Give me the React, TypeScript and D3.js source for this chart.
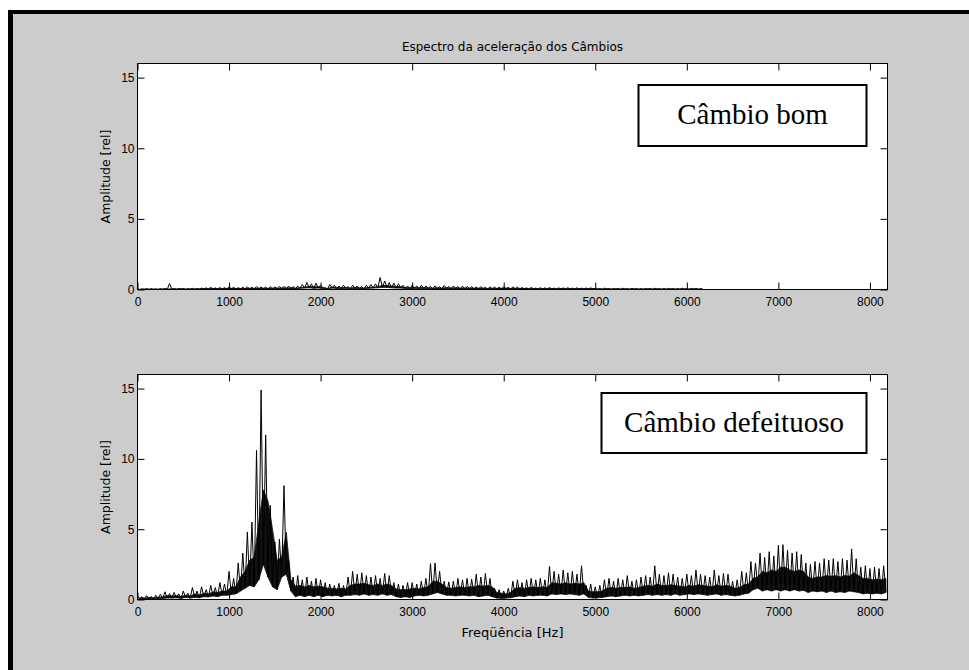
import React, { useEffect, useRef } from 'react';
import * as d3 from 'd3';

// spectrum per 50 Hz bin:
// peak = highest spike, band = top of the solid black band, floor = lowest dip
const BIN_HZ = 50;
const freqTicks = [0, 1000, 2000, 3000, 4000, 5000, 6000, 7000, 8000];
const ampTicks = [0, 5, 10, 15];

// Câmbio bom, 0 - 6150 Hz
const goodPeak = [
  0.05, 0.04, 0.06, 0.05, 0.04, 0.06, 0.07, 0.42, 0.06, 0.08,
  0.07, 0.06, 0.08, 0.07, 0.1, 0.12, 0.15, 0.11, 0.14, 0.13,
  0.2, 0.15, 0.13, 0.16, 0.18, 0.15, 0.2, 0.17, 0.16, 0.2,
  0.18, 0.22, 0.22, 0.25, 0.2, 0.24, 0.35, 0.5, 0.4, 0.45,
  0.3, 0.12, 0.35, 0.3, 0.25, 0.3, 0.2, 0.3, 0.25, 0.2,
  0.3, 0.35, 0.4, 0.85, 0.6, 0.5, 0.45, 0.4, 0.3, 0.25,
  0.3, 0.25, 0.3, 0.25, 0.22, 0.26, 0.2, 0.28, 0.22, 0.25,
  0.2, 0.24, 0.22, 0.2, 0.18, 0.2, 0.15, 0.19, 0.17, 0.16,
  0.2, 0.15, 0.18, 0.16, 0.14, 0.12, 0.15, 0.1, 0.13, 0.12,
  0.14, 0.1, 0.12, 0.11, 0.13, 0.1, 0.12, 0.1, 0.11, 0.12,
  0.08, 0.07, 0.1, 0.06, 0.08, 0.07, 0.09, 0.06, 0.08, 0.07,
  0.06, 0.08, 0.07, 0.09, 0.06, 0.07, 0.08, 0.06, 0.07, 0.09,
  0.06, 0.08, 0.07, 0.06,
];
const goodBand = [
  0.02, 0.02, 0.03, 0.02, 0.02, 0.03, 0.03, 0.04, 0.03, 0.04,
  0.03, 0.03, 0.04, 0.03, 0.05, 0.06, 0.07, 0.06, 0.06, 0.07,
  0.08, 0.07, 0.07, 0.08, 0.09, 0.08, 0.1, 0.09, 0.08, 0.1,
  0.09, 0.11, 0.11, 0.12, 0.1, 0.12, 0.17, 0.22, 0.2, 0.2,
  0.15, 0.06, 0.17, 0.15, 0.12, 0.15, 0.1, 0.14, 0.12, 0.1,
  0.15, 0.17, 0.2, 0.3, 0.28, 0.24, 0.22, 0.2, 0.14, 0.12,
  0.14, 0.12, 0.14, 0.12, 0.1, 0.12, 0.1, 0.13, 0.1, 0.12,
  0.1, 0.11, 0.1, 0.1, 0.09, 0.1, 0.07, 0.09, 0.08, 0.08,
  0.1, 0.07, 0.09, 0.08, 0.07, 0.06, 0.07, 0.05, 0.06, 0.06,
  0.07, 0.05, 0.06, 0.05, 0.06, 0.05, 0.06, 0.05, 0.05, 0.06,
  0.04, 0.03, 0.05, 0.03, 0.04, 0.03, 0.04, 0.03, 0.04, 0.03,
  0.03, 0.04, 0.03, 0.04, 0.03, 0.03, 0.04, 0.03, 0.03, 0.04,
  0.03, 0.04, 0.03, 0.03,
];
const goodFloor = [
  0, 0.01, 0, 0.01, 0, 0.01, 0.01, 0.02, 0.01, 0.02,
  0.01, 0.02, 0.01, 0.02, 0.02, 0.03, 0.04, 0.03, 0.02, 0.04,
  0.04, 0.03, 0.04, 0.03, 0.04, 0.05, 0.04, 0.06, 0.04, 0.05,
  0.06, 0.05, 0.06, 0.07, 0.05, 0.08, 0.1, 0.12, 0.08, 0.1,
  0.08, 0.02, 0.1, 0.07, 0.06, 0.08, 0.05, 0.07, 0.06, 0.05,
  0.08, 0.1, 0.12, 0.15, 0.15, 0.12, 0.1, 0.1, 0.07, 0.06,
  0.08, 0.05, 0.07, 0.06, 0.05, 0.06, 0.04, 0.07, 0.05, 0.06,
  0.04, 0.05, 0.06, 0.04, 0.04, 0.05, 0.03, 0.04, 0.04, 0.03,
  0.05, 0.03, 0.04, 0.03, 0.03, 0.02, 0.04, 0.02, 0.03, 0.02,
  0.03, 0.02, 0.03, 0.02, 0.03, 0.02, 0.03, 0.02, 0.02, 0.03,
  0.02, 0.01, 0.02, 0.01, 0.02, 0.01, 0.02, 0.01, 0.02, 0.01,
  0.01, 0.02, 0.01, 0.02, 0.01, 0.01, 0.02, 0.01, 0.01, 0.02,
  0.01, 0.02, 0.01, 0.01,
];

// Câmbio defeituoso, 0 - 8150 Hz
const defPeak = [
  0.25, 0.2, 0.28, 0.22, 0.3, 0.38, 0.55, 0.42, 0.5, 0.4,
  0.6, 0.45, 0.85, 0.6, 0.9, 0.7, 1.0, 0.85, 1.2, 1.1,
  2.0, 1.5, 2.6, 3.3, 4.8, 5.5, 10.6, 14.9, 11.7, 6.7,
  4.1, 4.3, 8.1, 2.8, 1.6, 1.7, 1.4, 1.6, 1.3, 1.5,
  1.4, 1.2, 1.1, 1.0, 1.15, 1.0, 1.6, 2.0, 1.8, 1.9,
  1.7, 1.6, 1.7, 1.5, 1.85, 1.7, 1.2, 1.1, 1.0, 1.2,
  1.2, 1.1, 1.3, 1.5, 2.55, 2.6, 2.0, 1.3, 1.25, 1.3,
  1.5, 1.4, 1.5, 1.45, 1.8, 1.6, 1.85, 1.5, 0.8, 0.7,
  0.6, 0.8, 1.3, 1.4, 1.2, 1.4, 1.5, 1.4, 1.5, 1.4,
  2.35, 2.0, 1.8, 2.1, 1.9, 2.0, 1.8, 2.4, 1.0, 1.1,
  0.9, 1.0, 1.4, 1.5, 1.3, 1.5, 1.4, 1.7, 1.3, 1.4,
  1.6, 1.7, 1.6, 2.4, 1.8, 1.7, 1.9, 1.8, 1.6, 1.5,
  1.8, 1.7, 2.1, 1.8, 1.7, 1.6, 2.1, 1.7, 1.85, 1.8,
  1.3, 1.4, 2.0, 1.9, 2.7, 2.6, 3.3, 3.0, 3.4, 3.1,
  3.85, 3.9, 3.5, 3.3, 3.4, 3.2, 2.6, 2.5, 2.7, 2.6,
  2.9, 2.8, 2.9, 2.7, 2.9, 2.8, 3.6, 2.9, 2.3, 2.4,
  2.2, 2.3, 2.2, 2.4,
];
const defBand = [
  0.12, 0.1, 0.14, 0.12, 0.15, 0.2, 0.28, 0.25, 0.28, 0.22,
  0.3, 0.25, 0.4, 0.32, 0.45, 0.4, 0.55, 0.5, 0.6, 0.6,
  0.9, 0.9, 1.6, 2.0, 2.8, 3.0, 5.5, 7.8, 7.0, 5.0,
  2.8, 3.0, 4.8, 1.4, 0.95, 1.0, 0.9, 1.0, 0.9, 0.95,
  0.9, 0.8, 0.8, 0.75, 0.8, 0.75, 1.0, 1.1, 1.1, 1.15,
  1.05, 1.0, 1.1, 1.0, 1.1, 1.0, 0.75, 0.7, 0.7, 0.75,
  0.8, 0.75, 0.85, 0.9, 1.3, 1.3, 1.1, 0.85, 0.8, 0.85,
  0.9, 0.85, 0.9, 0.9, 1.0, 0.95, 1.0, 0.9, 0.5, 0.45,
  0.4, 0.5, 0.8, 0.85, 0.8, 0.85, 0.9, 0.85, 0.9, 0.85,
  1.2, 1.15, 1.1, 1.2, 1.1, 1.15, 1.1, 1.2, 0.6, 0.55,
  0.55, 0.6, 0.8, 0.85, 0.8, 0.85, 0.85, 0.9, 0.8, 0.85,
  0.95, 1.0, 0.95, 1.1, 1.0, 1.0, 1.05, 1.0, 0.95, 0.9,
  1.0, 0.95, 1.05, 1.0, 0.95, 0.9, 1.05, 0.95, 1.0, 0.95,
  0.8, 0.85, 1.05, 1.1, 1.5, 1.6, 2.0, 1.9, 2.1, 2.0,
  2.3, 2.3, 2.1, 2.0, 2.1, 2.0, 1.6, 1.5, 1.6, 1.6,
  1.7, 1.65, 1.7, 1.6, 1.7, 1.65, 1.9, 1.7, 1.5, 1.5,
  1.4, 1.45, 1.4, 1.5,
];
const defFloor = [
  0.05, 0.03, 0.05, 0.03, 0.06, 0.08, 0.1, 0.1, 0.12, 0.08,
  0.15, 0.1, 0.15, 0.12, 0.2, 0.18, 0.25, 0.2, 0.3, 0.3,
  0.35, 0.4, 0.6, 0.8, 1.0, 0.9, 1.4, 2.5, 1.6, 0.9,
  0.7, 1.6, 1.8, 0.6, 0.2, 0.3, 0.2, 0.3, 0.2, 0.3,
  0.2, 0.3, 0.25, 0.3, 0.2, 0.3, 0.3, 0.35, 0.3, 0.4,
  0.3, 0.35, 0.3, 0.4, 0.3, 0.35, 0.2, 0.15, 0.2, 0.15,
  0.25, 0.3, 0.25, 0.3, 0.4, 0.5, 0.4, 0.3, 0.3, 0.25,
  0.3, 0.3, 0.25, 0.3, 0.2, 0.25, 0.3, 0.2, 0.1, 0.08,
  0.1, 0.12, 0.2, 0.25, 0.2, 0.3, 0.25, 0.3, 0.3, 0.25,
  0.4, 0.35, 0.4, 0.35, 0.4, 0.35, 0.3, 0.4, 0.15, 0.1,
  0.12, 0.15, 0.2, 0.25, 0.2, 0.25, 0.3, 0.25, 0.3, 0.25,
  0.3, 0.35, 0.3, 0.35, 0.3, 0.35, 0.3, 0.4, 0.3, 0.35,
  0.4, 0.35, 0.4, 0.35, 0.3, 0.35, 0.4, 0.3, 0.35, 0.3,
  0.25, 0.3, 0.4, 0.45, 0.7, 0.8, 0.6, 0.7, 0.6, 0.7,
  0.6, 0.7, 0.6, 0.7, 0.6, 0.65, 0.5, 0.6, 0.55, 0.6,
  0.5, 0.6, 0.5, 0.55, 0.5, 0.6, 0.55, 0.5, 0.4, 0.45,
  0.4, 0.45, 0.4, 0.5,
];

const W = 969;
const H = 670;
const sans = "'DejaVu Sans', sans-serif";
const tickFont = "'Liberation Sans', Arial, sans-serif";

// spikes: peak at bin start, floor half a bin later
const toSpikes = (peak: number[], floor: number[]) =>
  peak.flatMap((p, i) => [
    [i * BIN_HZ, p],
    [i * BIN_HZ + BIN_HZ / 2, floor[i]],
  ]);

const App = () => {
  const ref = useRef<SVGSVGElement>(null);

  useEffect(() => {
    const svg = d3.select(ref.current);
    svg.selectAll('*').remove();

    svg.append('rect').attr('width', W).attr('height', H).attr('fill', '#fff');
    svg.append('rect').attr('x', 8).attr('y', 10).attr('width', W).attr('height', H).attr('fill', '#000');
    svg.append('rect').attr('x', 13).attr('y', 14).attr('width', W).attr('height', H).attr('fill', '#cccccc');

    const left = 137.5;
    const right = 887.5;
    const x = d3.scaleLinear().domain([0, 8192]).range([left, right]);

    svg.append('text')
      .attr('x', (left + right) / 2)
      .attr('y', 51)
      .attr('text-anchor', 'middle')
      .attr('font-family', sans)
      .attr('font-size', 12)
      .attr('fill', '#000')
      .text('Espectro da aceleração dos Câmbios');

    const panels = [
      { top: 63.5, bottom: 289.5, peak: goodPeak, band: goodBand, floor: goodFloor, label: 'Câmbio bom', box: [638.5, 85, 228, 61], base: 123.5 },
      { top: 374.5, bottom: 599.5, peak: defPeak, band: defBand, floor: defFloor, label: 'Câmbio defeituoso', box: [601.5, 393, 265, 60], base: 431.5 },
    ];

    panels.forEach((p) => {
      const y = d3.scaleLinear().domain([0, 16]).range([p.bottom, p.top]);
      const g = svg.append('g');

      g.append('rect')
        .attr('x', left).attr('y', p.top)
        .attr('width', right - left).attr('height', p.bottom - p.top)
        .attr('fill', '#fff');

      // solid part of the noise
      const area = d3.area<number>()
        .x((_, i) => x(i * BIN_HZ + BIN_HZ / 2))
        .y0((_, i) => y(p.floor[i]))
        .y1((d) => y(d));
      g.append('path')
        .datum(p.band)
        .attr('d', area)
        .attr('fill', '#111')
        .attr('stroke', '#111')
        .attr('stroke-width', 0.8);

      const line = d3.line<number[]>()
        .x((d) => x(d[0]))
        .y((d) => y(d[1]));
      g.append('path')
        .datum(toSpikes(p.peak, p.floor))
        .attr('d', line)
        .attr('fill', 'none')
        .attr('stroke', '#000')
        .attr('stroke-width', 1);

      const styleAxis = (a: any) => {
        a.select('.domain').remove();
        a.selectAll('line').attr('stroke', '#000');
        a.attr('font-family', tickFont).attr('font-size', 12);
        a.selectAll('text').attr('fill', '#000');
      };

      g.append('g').attr('transform', `translate(0,${p.bottom})`)
        .call(d3.axisBottom(x).tickValues(freqTicks).tickSize(-7).tickPadding(8).tickFormat(d3.format('d')))
        .call(styleAxis);
      g.append('g').attr('transform', `translate(0,${p.top})`)
        .call(d3.axisTop(x).tickValues(freqTicks).tickSize(-7).tickFormat(() => ''))
        .call(styleAxis);
      g.append('g').attr('transform', `translate(${left},0)`)
        .call(d3.axisLeft(y).tickValues(ampTicks).tickSize(-7).tickPadding(3))
        .call(styleAxis);
      g.append('g').attr('transform', `translate(${right},0)`)
        .call(d3.axisRight(y).tickValues(ampTicks).tickSize(-7).tickFormat(() => ''))
        .call(styleAxis);

      g.append('rect')
        .attr('x', left).attr('y', p.top)
        .attr('width', right - left).attr('height', p.bottom - p.top)
        .attr('fill', 'none').attr('stroke', '#000').attr('stroke-width', 1);

      g.append('text')
        .attr('transform', `translate(110,${(p.top + p.bottom) / 2}) rotate(-90)`)
        .attr('text-anchor', 'middle')
        .attr('font-family', sans)
        .attr('font-size', 12.5)
        .attr('fill', '#000')
        .text('Amplitude [rel]');

      const [bx, by, bw, bh] = p.box;
      g.append('rect')
        .attr('x', bx).attr('y', by).attr('width', bw).attr('height', bh)
        .attr('fill', '#fff').attr('stroke', '#000').attr('stroke-width', 2);
      g.append('text')
        .attr('x', bx + bw / 2)
        .attr('y', p.base)
        .attr('text-anchor', 'middle')
        .attr('font-family', "'Liberation Serif', 'Times New Roman', serif")
        .attr('font-size', 29)
        .attr('fill', '#000')
        .text(p.label);
    });

    svg.append('text')
      .attr('x', (left + right) / 2)
      .attr('y', 637)
      .attr('text-anchor', 'middle')
      .attr('font-family', sans)
      .attr('font-size', 13)
      .attr('fill', '#000')
      .text('Freqüência [Hz]');
  }, []);

  return (
    <svg
      ref={ref}
      width={W}
      height={H}
      style={{ position: 'absolute', left: 0, top: 0, display: 'block' }}
    />
  );
};

export default App;
